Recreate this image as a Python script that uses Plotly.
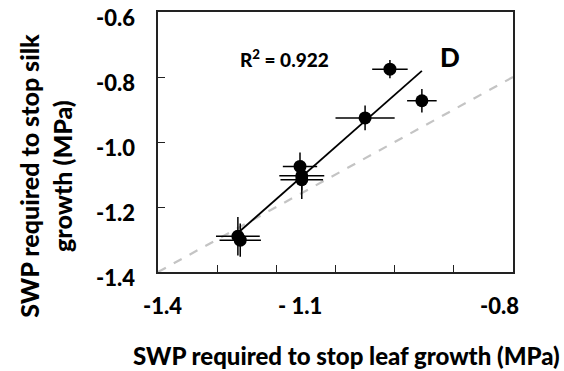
import numpy as np
import plotly.graph_objects as go

# SWP (MPa) at which leaf growth / silk growth stopped
leaf_swp = [-1.008, -0.954, -1.050, -1.160, -1.157, -1.157, -1.265, -1.261]
silk_swp = [-0.776, -0.873, -0.926, -1.075, -1.104, -1.116, -1.290, -1.302]
leaf_err = [0.030, 0.025, 0.050, 0.029, 0.038, 0.036, 0.037, 0.035]
silk_err = [0.028, 0.036, 0.038, 0.043, 0.045, 0.059, 0.059, 0.051]

y_tick_vals = [-1.4, -1.2, -1.0, -0.8, -0.6]
y_tick_text = ["-1.4", "-1.2", "-1.0", "-0.8", "-0.6"]
x_tick_vals = [-1.4, -1.3, -1.2, -1.1, -1.0, -0.9, -0.8]
x_tick_labels = ["-1.4", "- 1.1", "-0.8"]
x_label_pos = [-1.393, -1.160, -0.822]

x_title = "SWP required to stop leaf growth (MPa)"
y_title = "SWP required to stop silk<br>growth (MPa)"
r2_text = "R<sup>2</sup> = 0.922"
panel_text = "D"

FONT = "Lato, 'Open Sans', Arial, sans-serif"
BOLD = lambda s: dict(family=FONT, size=s, color="black", weight=900)

# regression
xs = np.array(leaf_swp)
ys = np.array(silk_swp)
slope, intercept = np.polyfit(xs, ys, 1)
fit_x = np.array([xs.min() - 0.005, xs.max()])
fit_y = slope * fit_x + intercept

fig = go.Figure()

# 1:1 line
fig.add_trace(go.Scatter(
    x=[-1.4, -0.8], y=[-1.4, -0.8], mode="lines",
    line=dict(color="#c4c4c4", width=2.2, dash="dash"),
    showlegend=False, hoverinfo="skip"))

# regression line
fig.add_trace(go.Scatter(
    x=fit_x, y=fit_y, mode="lines",
    line=dict(color="black", width=1.8),
    showlegend=False, hoverinfo="skip"))

# data with error bars
fig.add_trace(go.Scatter(
    x=leaf_swp, y=silk_swp, mode="markers",
    marker=dict(color="black", size=13),
    error_x=dict(type="data", array=leaf_err, color="black", thickness=1.5, width=0),
    error_y=dict(type="data", array=silk_err, color="black", thickness=1.5, width=0),
    showlegend=False))

fig.add_annotation(x=-1.186, y=-0.743, text=r2_text, showarrow=False, font=BOLD(19))
fig.add_annotation(x=-0.907, y=-0.737, text=panel_text, showarrow=False, font=BOLD(26))

for lab, pos in zip(x_tick_labels, x_label_pos):
    fig.add_annotation(x=pos, y=0, xref="x", yref="paper", yanchor="middle",
                       yshift=-33, text=lab, showarrow=False, font=BOLD(22))

for lab, val in zip(y_tick_text, y_tick_vals):
    fig.add_annotation(x=0, y=val, xref="paper", yref="y", xanchor="right",
                       yanchor="middle", xshift=-21, yshift=-5, text=lab,
                       showarrow=False, font=BOLD(22))

fig.add_annotation(x=0.532, y=0, xref="paper", yref="paper", yanchor="middle",
                   yshift=-83, text=x_title, showarrow=False, font=BOLD(24))
fig.add_annotation(x=0, y=0.37, xref="paper", yref="paper", xanchor="center",
                   yanchor="middle", xshift=-112, textangle=-90, text=y_title,
                   showarrow=False, font=BOLD(25))

fig.update_layout(
    width=564, height=371,
    margin=dict(l=158, r=51, t=10, b=99),
    plot_bgcolor="white", paper_bgcolor="white",
    font=dict(family=FONT, color="black"),
)

fig.update_xaxes(
    range=[-1.4, -0.8], tickvals=x_tick_vals, showticklabels=False,
    ticks="inside", ticklen=7, tickwidth=1.3, tickcolor="#222",
    showline=True, linecolor="#222", linewidth=1.5, mirror=True,
    showgrid=False, zeroline=False,
)
fig.update_yaxes(
    range=[-1.4, -0.6], tickvals=y_tick_vals, showticklabels=False,
    ticks="inside", ticklen=7, tickwidth=1.3, tickcolor="#222",
    showline=True, linecolor="#222", linewidth=1.5, mirror=True,
    showgrid=False, zeroline=False,
)

fig.write_html("out.html")
